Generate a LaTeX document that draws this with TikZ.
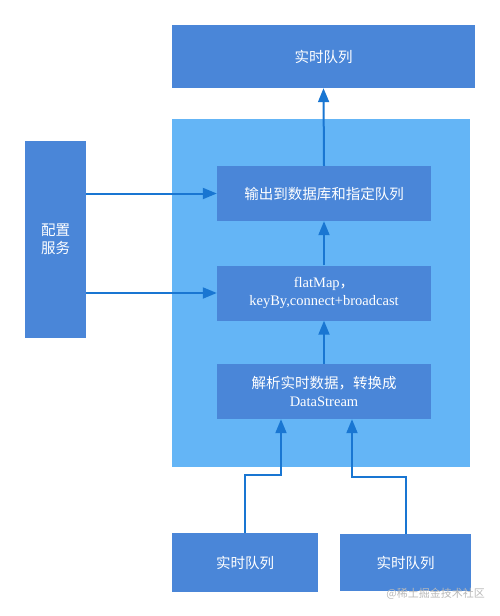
\documentclass[tikz,border=0pt]{standalone}
\usepackage{fontspec}
\setmainfont{Liberation Serif}
\newfontfamily\cjk{Noto Sans CJK SC}
\usepackage{xcolor}
\usetikzlibrary{arrows.meta, positioning}
\definecolor{boxblue}{HTML}{4A86D8}
\definecolor{areablue}{HTML}{64B5F6}
\definecolor{lineblue}{HTML}{1976D2}

\begin{document}
\begin{tikzpicture}[x=1pt, y=-1pt,
  every node/.style={font=\fontsize{14.5}{17.5}\selectfont, text=white, align=center, inner sep=0pt},
  stage/.style={fill=boxblue, minimum width=214pt, minimum height=55pt},
  queue/.style={fill=boxblue, minimum height=59pt},
  flow/.style={-{Triangle[length=14pt,width=11pt]}, draw=lineblue, line width=2pt}]

\useasboundingbox (0,0) rectangle (500,616);

% job area
\node[fill=areablue, minimum width=298pt, minimum height=348pt] (job) at (321,293) {};

\node[queue, minimum width=303pt, minimum height=63pt] (sink) at (323.5,56.5) {\cjk 实时队列};
\node[fill=boxblue, minimum width=61pt, minimum height=197pt] (cfg) at (55.5,239.5) {\cjk 配置\\\cjk 服务};

\node[stage] (out) at (324,193.5) {\cjk 输出到数据库和指定队列};
\node[stage] (map) at (324,293) {flatMap{\cjk ，}\\keyBy,connect+broadcast};
\node[stage] (parse) at (324,391.5) {\cjk 解析实时数据，转换成\\DataStream};

\node[queue, minimum width=146pt] (q1) at (245,562.5) {\cjk 实时队列};
\node[queue, minimum width=131pt, minimum height=57pt] (q2) at (405.5,562.5) {\cjk 实时队列};

\coordinate (j1) at (281,475);
\coordinate (j2) at (352,477);

\draw[flow] (out.north) -- (sink.south);
\draw[flow] (map.north) -- (out.south);
\draw[flow] (parse.north) -- (map.south);
\draw[flow] (cfg.east |- out.west) -- (out.west);
\draw[flow] (cfg.east |- map.west) -- (map.west);
\draw[flow] (q1.north) |- (j1) -- (j1 |- parse.south);
\draw[flow] (q2.north) |- (j2) -- (j2 |- parse.south);

\node[anchor=east, text=gray!55, font=\fontsize{11}{13}\selectfont] (mark) at (485,594) {\cjk @稀土掘金技术社区};

\end{tikzpicture}
\end{document}
